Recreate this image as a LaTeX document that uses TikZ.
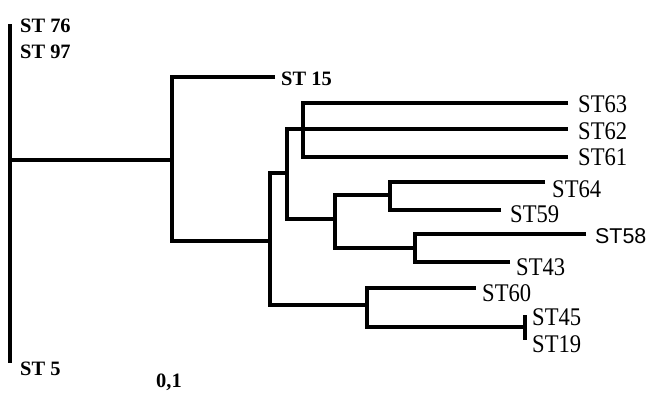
\documentclass[tikz,border=0pt]{standalone}
\usepackage{fontspec}
\setmainfont{Liberation Serif}
\newfontfamily\arialfont{Liberation Sans}
\newcommand{\narrowtxt}[1]{\scalebox{0.89}[1]{#1}}
\begin{document}
\begin{tikzpicture}[x=1bp,y=-1bp,
  branch/.style={line width=3.8bp, line join=miter},
  leaf/.style={anchor=base west, inner sep=0pt, font=\fontsize{25.5}{25.5}\selectfont},
  sansleaf/.style={anchor=base west, inner sep=0pt, font=\arialfont\fontsize{21.5}{21.5}\selectfont},
  boldleaf/.style={anchor=base west, inner sep=0pt, font=\bfseries\fontsize{20.5}{20.5}\selectfont}]
\useasboundingbox (0,0) rectangle (649,396);
% internal nodes
\coordinate (rtop) at (10,24);
\coordinate (rbot) at (10,363);
\coordinate (r) at (10,160);
\coordinate (n1) at (172,160);
\coordinate (n2) at (270,241);
\coordinate (n3) at (287,173);
\coordinate (n4) at (303,129);
\coordinate (n5) at (335,219);
\coordinate (n6) at (390,195);
\coordinate (n7) at (415,248);
\coordinate (n8) at (367,305);
\coordinate (n9) at (525,327);
\coordinate (t45) at (525,315);
\coordinate (t19) at (525,340);
% leaf ends
\coordinate (e15) at (275,77);
\coordinate (e63) at (568,103);
\coordinate (e62) at (568,129);
\coordinate (e61) at (568,157);
\coordinate (e64) at (545,182);
\coordinate (e59) at (501,210);
\coordinate (e58) at (586,234);
\coordinate (e43) at (510,262);
\coordinate (e60) at (476,288);
% branches
\draw[branch] (rtop) -- (rbot);
\draw[branch] (r) -- (n1);
\draw[branch] (e15) -| (n1);
\draw[branch] (n2) -| (n1);
\draw[branch] (n3) -| (n2);
\draw[branch] (n8) -| (n2);
\draw[branch] (n4) -| (n3);
\draw[branch] (n5) -| (n3);
\draw[branch] (e63) -| (n4);
\draw[branch] (e61) -| (n4);
\draw[branch] (n4) -- (e62);
\draw[branch] (n6) -| (n5);
\draw[branch] (n7) -| (n5);
\draw[branch] (e64) -| (n6);
\draw[branch] (e59) -| (n6);
\draw[branch] (e58) -| (n7);
\draw[branch] (e43) -| (n7);
\draw[branch] (e60) -| (n8);
\draw[branch] (n9) -| (n8);
\draw[branch] (t45) -- (t19);
% labels
\node[boldleaf] (l76) at (20,32) {ST 76};
\node[boldleaf] (l97) at (20,58) {ST 97};
\node[boldleaf] (l15) at (281,85) {ST 15};
\node[boldleaf] (l5) at (20,375) {ST 5};
\node[boldleaf] (scale) at (156,387) {0,1};
\node[leaf] (l63) at (578,112) {\narrowtxt{ST63}};
\node[leaf] (l62) at (578,139) {\narrowtxt{ST62}};
\node[leaf] (l61) at (578,165) {\narrowtxt{ST61}};
\node[leaf] (l64) at (552,197) {\narrowtxt{ST64}};
\node[leaf] (l59) at (510,222) {\narrowtxt{ST59}};
\node[sansleaf] (l58) at (595,243) {ST58};
\node[leaf] (l43) at (516,275) {\narrowtxt{ST43}};
\node[leaf] (l60) at (482,301) {\narrowtxt{ST60}};
\node[leaf] (l45) at (532,325) {\narrowtxt{ST45}};
\node[leaf] (l19) at (532,352) {\narrowtxt{ST19}};
\end{tikzpicture}
\end{document}
